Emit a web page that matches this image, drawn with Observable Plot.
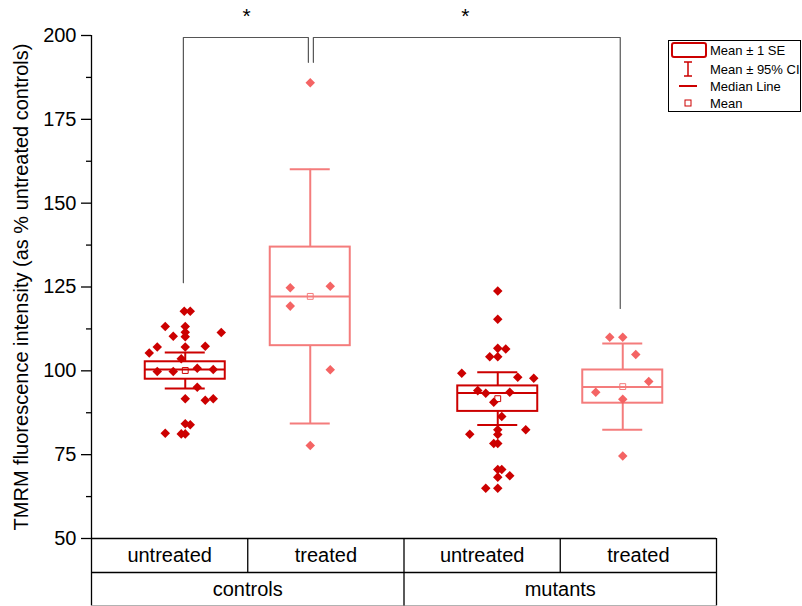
<!DOCTYPE html>
<html><head><meta charset="utf-8">
<script src="https://cdn.jsdelivr.net/npm/d3@7"></script>
<script src="https://cdn.jsdelivr.net/npm/@observablehq/plot@0.6"></script>
<style>
body{margin:0;background:#fff;font-family:"Liberation Sans",Arial,sans-serif;}
#wrap{position:relative;width:802px;height:606px;overflow:hidden;}
#legend{position:absolute;left:668px;top:40px;}
#legend text{font-family:"Liberation Sans",Arial,sans-serif;font-size:13px;fill:#000;}
</style></head><body><div id="wrap"></div>
<script>
// ---- categories ----
const groupLabels = ["controls", "mutants"];
const treatmentLabels = ["untreated", "treated", "untreated", "treated"];
const xPos = [1, 2, 3.5, 4.5];
const yTicks = [50, 75, 100, 125, 150, 175, 200];
const yMinorTicks = [62.5, 87.5, 112.5, 137.5, 162.5, 187.5];

// ---- summary statistics ----
const means   = [100.1, 122.2, 91.7, 95.3];
const se      = [2.6, 14.7, 3.8, 4.95];
const ci95    = [5.4, 37.9, 7.85, 12.85];
const medians = [100.4, 122.2, 93.4, 95.2];

// ---- raw points (values and horizontal jitter, x units) ----
const ctrlUntreated = [117.8,117.8,113.2,113.2,111.5,110.2,110.3,111.4,107.1,105.3,107.1,107.3,103.6,99.8,99.8,100.8,100.4,95.1,91.7,91.2,91.7,84.2,83.9,81.4,81.2,81.2];
const ctrlUntreatedJit = [-0.008,0.04,-0.16,0,0,0,-0.096,0.288,-0.224,-0.288,0,0.16,-0.032,-0.224,-0.096,0.096,0.224,0.096,0,0.16,0.224,0,0.04,-0.16,-0.032,0];
const ctrlTreated = [185.9,124.8,125.2,119.3,100.3,77.7];
const ctrlTreatedJit = [0,-0.16,0.16,-0.16,0.16,0];
const mutUntreated = [123.8,115.4,106.7,106.5,104.2,104.2,99.3,98.1,97.8,94.1,93.3,93.6,90.6,86.4,82.4,81.1,82.4,81.0,78.3,78.3,70.6,70.6,68.3,68.7,65.0,65.0];
const mutUntreatedJit = [0,0,0,0.064,-0.064,0,-0.288,0.16,0.288,-0.16,-0.096,0.096,-0.032,0.032,0.224,-0.224,0,0,-0.032,0,0,0.032,0,0.096,-0.096,0];
const mutTreated = [110.0,110.0,104.9,96.8,93.6,91.5,74.6];
const mutTreatedJit = [-0.104,0,0.104,0.208,-0.216,0,0];

// ---- significance annotations ----
const sigLabels = ["*", "*"];

const darkRed = "#cc0000", lightRed = "#f46464", lightBox = "#f47c7c";

const values = [ctrlUntreated, ctrlTreated, mutUntreated, mutTreated];
const jitters = [ctrlUntreatedJit, ctrlTreatedJit, mutUntreatedJit, mutTreatedJit];
const points = values.flatMap((vals, i) => vals.map((v, j) => ({
  x: xPos[i] + jitters[i][j], y: v, color: treatmentLabels[i] === "untreated" ? darkRed : lightRed
})));
const stats = xPos.map((x, i) => ({
  x, mean: means[i], se: se[i], ci: ci95[i], median: medians[i],
  color: treatmentLabels[i] === "untreated" ? darkRed : lightBox
}));

const xDomain = [0.25, 5.25];
const colW = (xDomain[1] - xDomain[0]) / 4;
const row1Bottom = 39.86, row2Bottom = 29.9;
const treatCells = treatmentLabels.map((t, i) => ({label: t, x: xDomain[0] + colW * (i + 0.5)}));
const groupCells = groupLabels.map((g, i) => ({label: g, x: xDomain[0] + colW * (2 * i + 1)}));

const brackets = [
  [{x: 0.985, y: 126.3}, {x: 0.985, y: 199.4}, {x: 1.985, y: 199.4}, {x: 1.985, y: 192}],
  [{x: 2.025, y: 192}, {x: 2.025, y: 199.4}, {x: 4.48, y: 199.4}, {x: 4.48, y: 118.6}]
];
const stars = [{x: 1.49, y: 205.7, t: sigLabels[0]}, {x: 3.24, y: 205.7, t: sigLabels[1]}];

const chart = Plot.plot({
  width: 802, height: 606,
  marginTop: 35, marginBottom: 68, marginLeft: 91, marginRight: 86,
  x: {domain: xDomain, axis: null},
  y: {domain: [50, 200], axis: null},
  color: {type: "identity"},
  style: {fontFamily: "'Liberation Sans', Arial, sans-serif", fontSize: "20px", background: "white", overflow: "visible", color: "black"},
  marks: [
    // boxes
    Plot.rect(stats, {x1: d => d.x - 0.32, x2: d => d.x + 0.32, y1: d => d.mean - d.se, y2: d => d.mean + d.se, fill: "none", stroke: "color", strokeWidth: 2}),
    Plot.ruleY(stats, {y: "median", x1: d => d.x - 0.32, x2: d => d.x + 0.32, stroke: "color", strokeWidth: 2}),
    Plot.ruleX(stats, {x: "x", y1: d => d.mean + d.se, y2: d => d.mean + d.ci, stroke: "color", strokeWidth: 2}),
    Plot.ruleX(stats, {x: "x", y1: d => d.mean - d.se, y2: d => d.mean - d.ci, stroke: "color", strokeWidth: 2}),
    Plot.ruleY(stats, {y: d => d.mean + d.ci, x1: d => d.x - 0.16, x2: d => d.x + 0.16, stroke: "color", strokeWidth: 2}),
    Plot.ruleY(stats, {y: d => d.mean - d.ci, x1: d => d.x - 0.16, x2: d => d.x + 0.16, stroke: "color", strokeWidth: 2}),
    // points
    Plot.dot(points, {x: "x", y: "y", symbol: "square", rotate: 45, r: 3.8, fill: "color", stroke: "none"}),
    // mean markers
    Plot.dot(stats, {x: "x", y: "mean", symbol: "square", r: 3.3, fill: "white", fillOpacity: 0, stroke: "color", strokeWidth: 1}),
    // significance brackets
    ...brackets.map(b => Plot.line(b, {x: "x", y: "y", stroke: "#555", strokeWidth: 1.2})),
    Plot.text(stars, {x: "x", y: "y", text: "t", fontSize: 21}),
    // y axis
    Plot.ruleX([xDomain[0]], {y1: row2Bottom, y2: 200, stroke: "black", strokeWidth: 1.3}),
    Plot.axisY({ticks: yTicks, tickSize: 10, tickPadding: 5, fontSize: 20, label: null, tickFormat: d => String(d), strokeWidth: 1.3}),
    Plot.axisY({ticks: yMinorTicks, tickSize: 5, text: null, label: null, strokeWidth: 1.3}),
    Plot.text(["TMRM fluorescence intensity (as % untreated controls)"], {frameAnchor: "left", textAnchor: "middle", dx: -70, rotate: -90, fontSize: 20}),
    // category table
    Plot.ruleY([50, row1Bottom], {x1: xDomain[0], x2: xDomain[1], stroke: "black", strokeWidth: 1.3}),
    Plot.ruleY([row2Bottom], {x1: xDomain[0], x2: xDomain[1], stroke: "#999", strokeWidth: 1.3}),
    Plot.ruleX([xDomain[0] + colW, xDomain[0] + 3 * colW], {y1: row1Bottom, y2: 50, stroke: "black", strokeWidth: 1.3}),
    Plot.ruleX([xDomain[0] + 2 * colW, xDomain[1]], {y1: row2Bottom, y2: 50, stroke: "black", strokeWidth: 1.3}),
    Plot.text(treatCells, {x: "x", y: (50 + row1Bottom) / 2, text: "label", fontSize: 20}),
    Plot.text(groupCells, {x: "x", y: (row1Bottom + row2Bottom) / 2, text: "label", fontSize: 20})
  ]
});
document.getElementById("wrap").appendChild(chart);

// legend
const legendItems = ["Mean \u00b1 1 SE", "Mean \u00b1 95% CI", "Median Line", "Mean"];
const lg = d3.select("#wrap").append("svg").attr("id", "legend").attr("width", 134).attr("height", 73);
lg.append("rect").attr("x", 0.5).attr("y", 0.5).attr("width", 132).attr("height", 71).attr("fill", "white").attr("stroke", "black");
lg.append("rect").attr("x", 4).attr("y", 3).attr("width", 34).attr("height", 14).attr("rx", 2).attr("fill", "none").attr("stroke", darkRed).attr("stroke-width", 2);
lg.append("path").attr("d", "M20,22V36M16,22H24M16,36H24").attr("stroke", darkRed).attr("stroke-width", 1.5).attr("fill", "none");
lg.append("path").attr("d", "M11,46H29").attr("stroke", darkRed).attr("stroke-width", 2);
lg.append("rect").attr("x", 17).attr("y", 60).attr("width", 6).attr("height", 6).attr("fill", "none").attr("stroke", darkRed).attr("stroke-width", 1);
[10, 29, 46, 63].forEach((y, i) => lg.append("text").attr("x", 42).attr("y", y).attr("dy", "0.35em").text(legendItems[i]));
</script>
</body></html>
